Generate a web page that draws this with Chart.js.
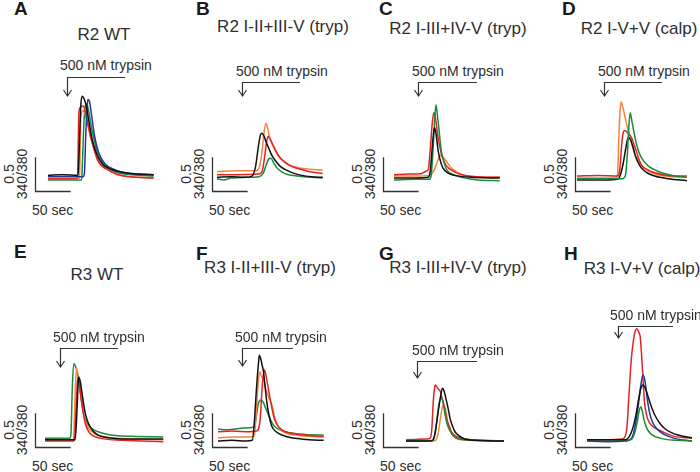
<!DOCTYPE html>
<html><head><meta charset="utf-8">
<script src="https://cdn.jsdelivr.net/npm/chart.js@4.4.0/dist/chart.umd.min.js"></script>
<style>
html,body{margin:0;padding:0;background:#fff;}
#fig{position:relative;width:700px;height:472px;overflow:hidden;font-family:"Liberation Sans",Arial,sans-serif;color:#2e2e2e;}
.t{position:absolute;white-space:nowrap;line-height:1;}
.c{transform:translate(-50%,-50%);}
.r{transform:translate(-50%,-50%) rotate(-90deg);}
.L{font-weight:bold;font-size:19px;color:#1a1a1a;}
.T{font-size:17px;}
.s{font-size:14px;}
canvas{position:absolute;}
svg{position:absolute;left:0;top:0;}
</style></head><body><div id="fig"></div>
<script>
// ---------- DATA: [time (s), 340/380 ratio] ----------
const A_black  = [[0,0.87],[20,0.88],[43,0.87],[45,1.4],[47,1.95],[49,2.07],[52,2.02],[55,1.9],[59,1.65],[63,1.42],[67,1.27],[71,1.16],[78,1.04],[86,0.98],[96,0.94],[110,0.91],[130,0.89],[151,0.88]];
const A_blue   = [[0,0.85],[50,0.85],[52,0.9],[54,1.5],[56,1.9],[57,2.02],[59,2.0],[62,1.8],[66,1.5],[70,1.3],[75,1.15],[82,1.04],[92,0.97],[105,0.92],[125,0.89],[151,0.88]];
const A_red    = [[0,0.82],[42,0.82],[43,1.2],[44,1.8],[46,1.9],[50,1.92],[53,1.85],[57,1.65],[61,1.45],[65,1.3],[70,1.12],[76,1.02],[86,0.95],[100,0.88],[115,0.85],[151,0.83]];
const A_orange = [[0,0.81],[45,0.81],[46,1.3],[47,1.75],[50,1.85],[53,1.8],[57,1.62],[62,1.4],[67,1.22],[73,1.08],[80,1.0],[90,0.93],[105,0.87],[151,0.83]];
const A_green  = [[0,0.8],[48,0.8],[49,1.0],[51,1.6],[53,1.9],[55,1.95],[58,1.85],[62,1.6],[66,1.4],[71,1.2],[78,1.06],[88,0.97],[100,0.91],[120,0.88],[151,0.86]];

const B_black  = [[0,0.84],[20,0.85],[40,0.84],[50,0.86],[55,1.0],[59,1.3],[62,1.48],[64,1.51],[67,1.47],[70,1.38],[74,1.28],[78,1.18],[83,1.1],[90,1.01],[97,0.96],[110,0.9],[121,0.87],[135,0.85],[151,0.84]];
const B_green  = [[0,0.82],[10,0.8],[20,0.83],[40,0.84],[60,0.85],[66,0.9],[70,1.02],[74,1.12],[77,1.13],[81,1.06],[86,0.98],[93,0.92],[102,0.88],[115,0.86],[135,0.84],[151,0.83]];
const B_red    = [[0,0.88],[30,0.88],[60,0.89],[65,0.95],[68,1.15],[71,1.38],[73,1.46],[76,1.42],[80,1.33],[84,1.24],[90,1.14],[97,1.07],[108,1.0],[121,0.96],[135,0.92],[151,0.9]];
const B_orange = [[0,0.93],[30,0.94],[55,0.94],[60,0.98],[64,1.2],[67,1.5],[70,1.66],[72,1.6],[75,1.45],[78,1.36],[83,1.25],[88,1.16],[95,1.08],[102,1.03],[115,0.99],[126,0.97],[151,0.95]];

const C_black  = [[0,0.83],[30,0.83],[49,0.84],[52,0.95],[55,1.35],[57,1.55],[58,1.59],[60,1.5],[63,1.25],[66,1.1],[70,0.98],[78,0.9],[87,0.87],[110,0.84],[151,0.83]];
const C_green  = [[0,0.8],[30,0.81],[50,0.81],[53,0.86],[56,1.3],[58,1.7],[60,1.94],[62,1.78],[64,1.59],[66,1.38],[68,1.21],[72,1.05],[75,0.96],[85,0.88],[97,0.84],[120,0.8],[151,0.79]];
const C_red    = [[0,0.88],[20,0.89],[40,0.9],[45,0.93],[49,0.96],[52,1.3],[55,1.7],[57,1.82],[59,1.75],[61,1.6],[63,1.44],[66,1.28],[68,1.18],[73,1.05],[78,0.98],[87,0.92],[97,0.88],[115,0.85],[151,0.84]];
const C_orange = [[0,0.86],[30,0.86],[50,0.87],[56,0.92],[60,1.02],[64,1.14],[67,1.18],[70,1.15],[75,1.08],[82,0.98],[90,0.92],[101,0.87],[120,0.85],[151,0.84]];

const D_black  = [[0,0.8],[40,0.8],[58,0.81],[62,0.88],[66,1.05],[70,1.3],[73,1.44],[76,1.42],[80,1.3],[83,1.18],[88,1.05],[92,0.98],[100,0.91],[111,0.86],[130,0.82],[157,0.79]];
const D_green  = [[0,0.82],[40,0.82],[65,0.82],[69,0.86],[72,1.2],[74,1.6],[76,1.82],[78,1.72],[80,1.6],[83,1.44],[86,1.3],[90,1.18],[95,1.09],[102,1.01],[110,0.96],[121,0.91],[140,0.86],[157,0.84]];
const D_red    = [[0,0.86],[30,0.87],[58,0.86],[61,0.95],[64,1.35],[66,1.52],[68,1.55],[72,1.52],[78,1.44],[82,1.32],[85,1.23],[89,1.1],[92,1.03],[100,0.96],[111,0.91],[130,0.87],[157,0.86]];
const D_orange = [[0,0.83],[30,0.83],[55,0.83],[58,0.9],[60,1.5],[62,1.9],[63,1.98],[66,1.88],[69,1.74],[72,1.6],[76,1.44],[80,1.28],[83,1.18],[88,1.08],[92,1.01],[100,0.95],[107,0.91],[125,0.86],[157,0.84]];

const E_black  = [[0,0.82],[30,0.82],[43,0.82],[45,1.1],[47,1.6],[48,1.77],[50,1.72],[53,1.52],[55,1.37],[58,1.2],[62,1.07],[68,0.96],[76,0.89],[90,0.85],[120,0.83],[169,0.83]];
const E_red    = [[0,0.8],[40,0.8],[42,0.82],[44,1.2],[46,1.65],[47,1.75],[49,1.68],[52,1.4],[55,1.2],[58,1.05],[62,0.95],[67,0.89],[80,0.84],[110,0.81],[169,0.79]];
const E_orange = [[0,0.81],[40,0.81],[41,0.85],[43,1.5],[45,1.9],[47,1.82],[50,1.6],[53,1.38],[56,1.18],[60,1.04],[66,0.95],[75,0.89],[95,0.85],[169,0.82]];
const E_green  = [[0,0.84],[20,0.84],[35,0.84],[37,0.9],[39,1.6],[41,1.97],[44,1.92],[47,1.78],[50,1.57],[53,1.36],[55,1.22],[58,1.12],[62,1.04],[68,0.98],[76,0.94],[90,0.9],[105,0.88],[130,0.87],[169,0.86]];

const F_black  = [[0,0.8],[20,0.81],[40,0.8],[49,0.81],[52,1.1],[55,1.6],[58,2.0],[59,2.1],[61,2.05],[63,1.95],[65,1.85],[67,1.65],[70,1.37],[73,1.18],[77,1.02],[83,0.94],[91,0.89],[110,0.84],[130,0.82],[151,0.81]];
const F_red    = [[0,0.94],[20,0.95],[45,0.94],[55,0.95],[60,1.1],[63,1.6],[66,1.88],[68,1.82],[71,1.65],[74,1.47],[77,1.3],[81,1.12],[88,1.0],[96,0.94],[115,0.9],[135,0.88],[151,0.87]];
const F_orange = [[0,0.85],[20,0.86],[45,0.86],[52,0.88],[55,1.3],[58,1.75],[60,1.85],[62,1.78],[65,1.75],[68,1.6],[71,1.5],[74,1.42],[77,1.35],[80,1.2],[86,1.02],[95,0.93],[110,0.89],[130,0.87],[151,0.86]];
const F_green  = [[0,0.98],[15,0.97],[30,0.99],[45,1.0],[52,1.02],[55,1.2],[58,1.38],[61,1.42],[64,1.4],[68,1.3],[72,1.2],[77,1.08],[81,1.02],[90,0.96],[105,0.92],[125,0.9],[151,0.89]];

const G_black  = [[0,0.8],[30,0.8],[38,0.81],[42,0.95],[46,1.25],[49,1.45],[52,1.6],[54,1.57],[58,1.4],[61,1.25],[63,1.14],[66,1.04],[70,0.94],[77,0.87],[84,0.83],[100,0.81],[140,0.8]];
const G_green  = [[0,0.8],[35,0.8],[40,0.84],[44,1.1],[47,1.35],[50,1.46],[53,1.38],[56,1.19],[59,1.05],[63,0.95],[70,0.86],[80,0.82],[140,0.8]];
const G_red    = [[0,0.82],[30,0.83],[35,0.85],[37,1.0],[39,1.4],[41,1.62],[42,1.65],[45,1.6],[49,1.55],[51,1.47],[53,1.4],[56,1.25],[58,1.14],[62,1.02],[65,0.94],[72,0.87],[85,0.83],[110,0.81],[140,0.8]];
const G_orange = [[0,0.8],[40,0.8],[44,0.84],[47,0.98],[50,1.2],[53,1.35],[56,1.3],[59,1.12],[62,0.98],[67,0.88],[75,0.83],[140,0.8]];

const H_black  = [[0,0.82],[30,0.82],[55,0.82],[60,0.86],[65,0.98],[70,1.2],[74,1.45],[77,1.6],[80,1.65],[84,1.58],[88,1.45],[92,1.32],[97,1.19],[104,1.07],[111,0.99],[120,0.93],[130,0.89],[150,0.85]];
const H_green  = [[0,0.82],[30,0.82],[55,0.81],[64,0.83],[68,0.92],[72,1.1],[75,1.28],[77,1.32],[79,1.25],[82,1.1],[86,0.98],[92,0.9],[105,0.84],[150,0.8]];
const H_blue   = [[0,0.8],[30,0.79],[55,0.8],[62,0.82],[66,0.9],[70,1.1],[74,1.4],[77,1.65],[80,1.8],[83,1.7],[86,1.45],[89,1.25],[93,1.1],[100,0.98],[110,0.9],[125,0.84],[150,0.8]];
const H_red    = [[0,0.82],[30,0.82],[50,0.83],[54,0.86],[57,1.0],[60,1.5],[63,2.0],[66,2.3],[69,2.47],[71,2.5],[74,2.45],[76,2.38],[78,2.1],[80,1.75],[82,1.4],[85,1.2],[88,1.1],[93,1.03],[102,0.97],[112,0.92],[125,0.87],[150,0.84]];

// labels
const letters = ["A","B","C","D","E","F","G","H"];
const titles = ["R2 WT","R2 I-II+III-V (tryp)","R2 I-III+IV-V (tryp)","R2 I-V+V (calp)",
                "R3 WT","R3 I-II+III-V (tryp)","R3 I-III+IV-V (tryp)","R3 I-V+V (calp)"];
const stimLabel = "500 nM trypsin";
const yBarLabel = ["0.5","340/380"];
const xBarLabel = "50 sec";
const barTime = 50;   // s
const barRatio = 0.5; // 340/380

const COL = {black:"#111111", red:"#e52222", orange:"#f5843e", green:"#1b8a3c", blue:"#23379a"};

const series = [
  [["black",A_black],["blue",A_blue],["red",A_red],["orange",A_orange],["green",A_green]],
  [["black",B_black],["green",B_green],["red",B_red],["orange",B_orange]],
  [["black",C_black],["green",C_green],["red",C_red],["orange",C_orange]],
  [["green",D_green],["black",D_black],["red",D_red],["orange",D_orange]],
  [["black",E_black],["red",E_red],["orange",E_orange],["green",E_green]],
  [["black",F_black],["red",F_red],["orange",F_orange],["green",F_green]],
  [["black",G_black],["green",G_green],["red",G_red],["orange",G_orange]],
  [["black",H_black],["green",H_green],["blue",H_blue],["red",H_red]]
];

// ---------- LAYOUT (pixels) ----------
const PX_PER_S = 0.7, PX_PER_U = 66, REF_V = 0.8;
const layout = [
  {barX:35, barB:191, x0:48, yRef:180, top:86, right:160, let:[14,-1], tit:[104,34], stim:[60,66], arr:[67,125,77,96]},
  {barX:212, barB:191, x0:217, yRef:180, top:86, right:330, let:[196,-1], tit:[283,26], stim:[236,72], arr:[242,300,82,96]},
  {barX:383, barB:191, x0:394, yRef:180, top:86, right:506, let:[379,-1], tit:[458,28], stim:[412,72], arr:[418,477,82,96]},
  {barX:575, barB:191, x0:577, yRef:180, top:86, right:700, let:[562,-1], tit:[639,28], stim:[598,72], arr:[604,662,82,96]},
  {barX:35, barB:447, x0:45, yRef:441, top:315, right:170, let:[14,242], tit:[97,274], stim:[53,338], arr:[60,118,348,367]},
  {barX:212, barB:447, x0:218, yRef:441, top:315, right:330, let:[196,244], tit:[270,267], stim:[235,338], arr:[242,293,348,366]},
  {barX:383, barB:447, x0:406, yRef:441, top:315, right:510, let:[379,244], tit:[458,267], stim:[412,351], arr:[417,477,361,378]},
  {barX:575, barB:447, x0:587, yRef:441, top:315, right:700, let:[564,244], tit:[642,268], stim:[610,316], arr:[618,673,326,338]}
];

const fig = document.getElementById('fig');
function addText(txt, cls, x, y){
  const d = document.createElement('div');
  d.className = 't ' + cls; d.textContent = txt;
  d.style.left = x + 'px'; d.style.top = y + 'px';
  fig.appendChild(d); return d;
}

const scaleBar = {
  id:'scaleBar',
  afterDatasetsDraw(chart, args, o){
    const {ctx, scales:{x,y}} = chart;
    const xa = Math.round(x.getPixelForValue(o.t0))+0.5, xb = x.getPixelForValue(o.t0 + barTime);
    const ya = Math.round(y.getPixelForValue(o.v0))+0.5, yb = y.getPixelForValue(o.v0 + barRatio);
    ctx.save(); ctx.strokeStyle='#333'; ctx.lineWidth=1.3; ctx.lineCap='square';
    ctx.beginPath(); ctx.moveTo(xa,yb); ctx.lineTo(xa,ya); ctx.lineTo(xb,ya); ctx.stroke(); ctx.restore();
  }
};

let svg = '<svg width="700" height="472" xmlns="http://www.w3.org/2000/svg">';
layout.forEach((L,i)=>{
  const left = L.barX - 3, top = L.top, w = L.right - left, h = L.barB + 3 - top;
  const cv = document.createElement('canvas');
  cv.width = w; cv.height = h; cv.style.left = left+'px'; cv.style.top = top+'px';
  cv.style.width = w+'px'; cv.style.height = h+'px';
  fig.appendChild(cv);
  const xMin = (left - L.x0)/PX_PER_S, xMax = (left + w - L.x0)/PX_PER_S;
  const yMax = REF_V + (L.yRef - top)/PX_PER_U, yMin = REF_V + (L.yRef - (top+h))/PX_PER_U;
  new Chart(cv, {
    type:'line',
    data:{datasets: series[i].map(([c,arr])=>({
      data: arr.map(p=>({x:p[0], y:p[1]})),
      borderColor: COL[c], borderWidth:1.5, pointRadius:0, fill:false,
      cubicInterpolationMode:'monotone', clip:false
    }))},
    options:{
      responsive:false, animation:false, devicePixelRatio:1, events:[],
      layout:{padding:0},
      scales:{x:{type:'linear', display:false, min:xMin, max:xMax},
              y:{display:false, min:yMin, max:yMax}},
      plugins:{legend:{display:false}, tooltip:{enabled:false},
               scaleBar:{t0:(L.barX - L.x0)/PX_PER_S, v0:REF_V + (L.yRef - L.barB)/PX_PER_U}}
    },
    plugins:[scaleBar]
  });
  // text
  addText(letters[i], 'L', L.let[0], L.let[1]);
  addText(titles[i], 'T c', L.tit[0], L.tit[1]);
  addText(stimLabel, 's', L.stim[0], L.stim[1]-8);
  const midY = L.barB - 17;
  addText(yBarLabel[0], 's r', L.barX - 26, midY);
  addText(yBarLabel[1], 's r', L.barX - 13, midY);
  addText(xBarLabel, 's', L.barX - 3, L.barB + 12);
  // stimulus arrow
  const [ax, ax2, ay, tip] = L.arr;
  svg += `<path d="M${ax2} ${ay+0.5} H${ax+0.5} V${tip}" fill="none" stroke="#333" stroke-width="1.2"/>`;
  svg += `<path d="M${ax-3.5} ${tip-6} L${ax+0.5} ${tip} L${ax+4.5} ${tip-6}" fill="none" stroke="#333" stroke-width="1.2"/>`;
});
svg += '</svg>';
fig.insertAdjacentHTML('beforeend', svg);
</script>
</body></html>
